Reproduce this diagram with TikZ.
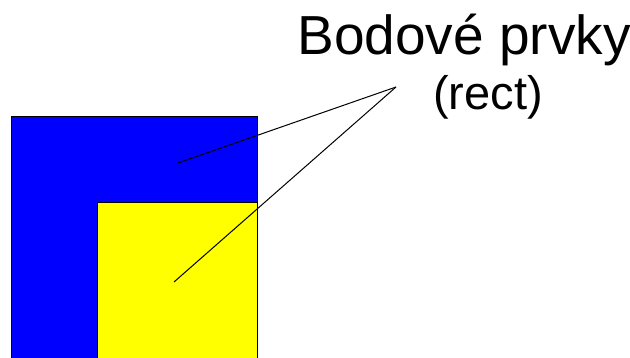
\documentclass[tikz,border=0pt]{standalone}
\usepackage{fontspec}
\setmainfont{Liberation Sans}
\begin{document}
\begin{tikzpicture}[x=1pt,y=-1pt,line width=1pt]
    \clip (0,0) rectangle (630,357);
    \useasboundingbox (0,0) rectangle (630,357);
    \fill[white] (0,0) rectangle (630,357);

    \draw[fill={rgb,255:red,0;green,0;blue,255}] (11,116) rectangle (257,370);
    \draw[fill={rgb,255:red,255;green,255;blue,0}] (97,202) rectangle (257,370);

    \node[anchor=base,inner sep=0] (nazev) at (464,54) {\fontsize{55}{60}\selectfont Bodové prvky};
    \node[anchor=base,inner sep=0] (typ) at (488,109) {\fontsize{47}{54}\selectfont (rect)};

    \coordinate (hrot) at (396,87);
    \coordinate (modry) at (178,163);
    \coordinate (zluty) at (174,282);
    \draw (hrot) -- (modry);
    \draw (hrot) -- (zluty);
\end{tikzpicture}
\end{document}
